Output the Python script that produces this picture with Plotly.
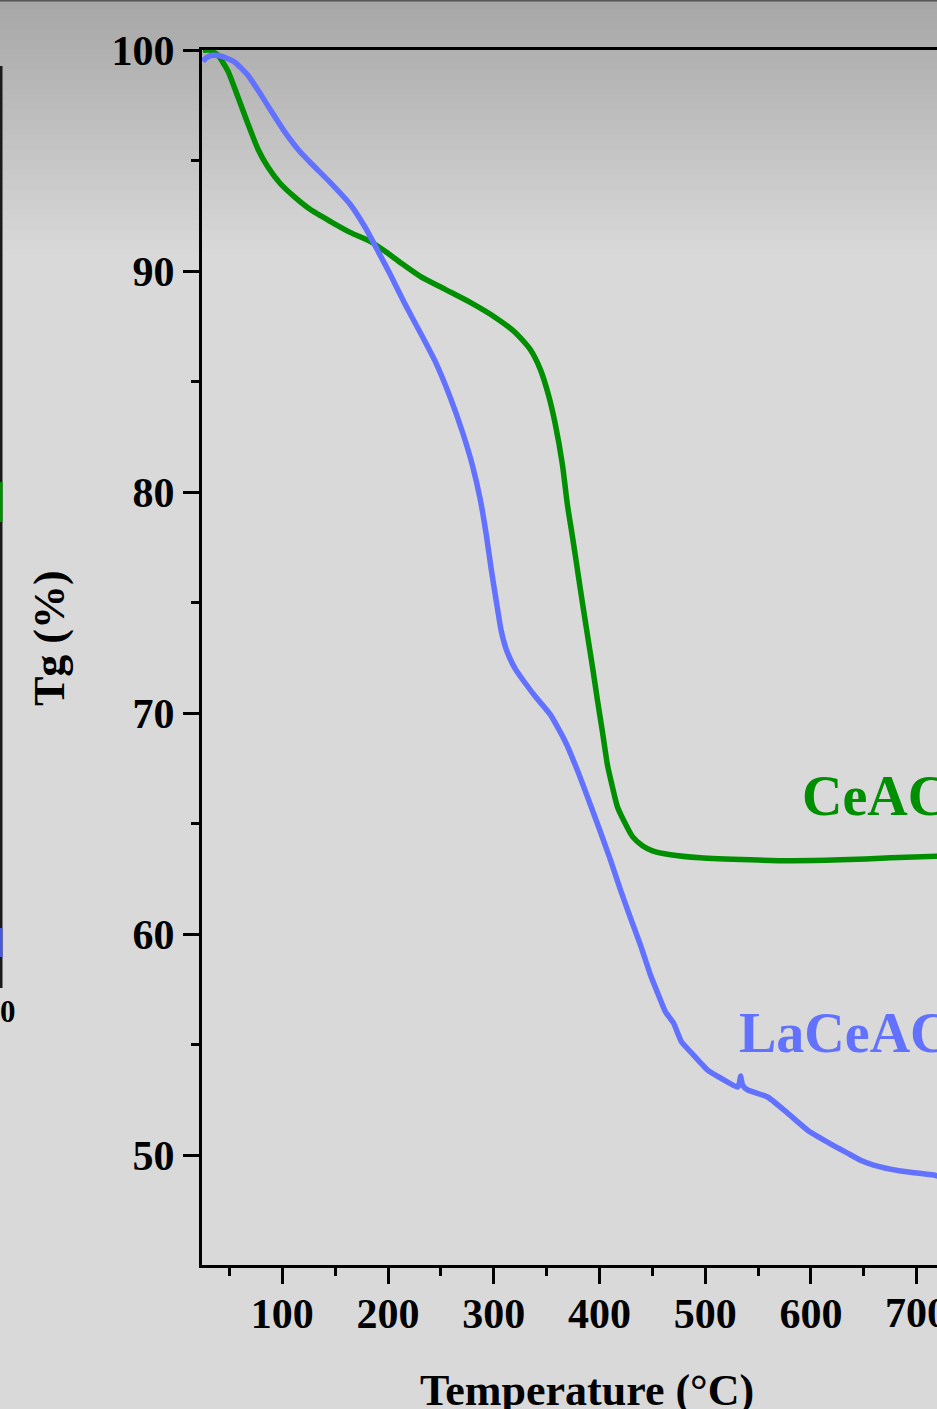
import plotly.graph_objects as go

# ---- data (temperature in °C, mass in %) ----
ceac_T = [24.9, 31.5, 39.1, 48.6, 58.1, 67.6, 77.1, 86.5, 97.8, 112.0, 126.2, 145.2, 164.1, 183.0,
          197.2, 211.4, 230.4, 254.0, 277.7, 301.4, 320.3, 334.5, 344.0, 351.6, 358.2, 364.9,
          369.6, 374.4, 379.1, 383.8, 388.6, 393.3, 398.0, 402.8, 407.5, 412.2, 417.0, 423.6,
          431.2, 440.6, 450.1, 467.1, 495.5, 542.8, 580.7, 628.0, 675.4, 719.9]
ceac_v = [99.99, 99.99, 99.76, 99.04, 97.86, 96.64, 95.50, 94.69, 93.97, 93.33, 92.79, 92.25, 91.75,
          91.34, 90.89, 90.39, 89.76, 89.17, 88.58, 87.90, 87.22, 86.45, 85.55, 84.41, 83.06,
          81.24, 79.43, 77.98, 76.49, 75.00, 73.53, 72.10, 70.60, 69.14, 67.65, 66.66, 65.75,
          65.07, 64.41, 64.00, 63.77, 63.59, 63.45, 63.36, 63.32, 63.36, 63.45, 63.52]

laceac_T = [24.9, 28.7, 34.4, 42.9, 55.2, 67.6, 78.9, 90.2, 102.6, 114.9, 128.1, 145.2, 164.1,
            178.3, 190.6, 202.0, 216.2, 230.4, 244.6, 258.8, 270.2, 279.6, 287.2, 292.9, 297.6,
            302.4, 307.1, 312.8, 320.3, 329.8, 339.3, 353.5, 367.7, 380.0, 391.4, 400.8, 410.3,
            419.8, 429.3, 438.7, 448.2, 455.8, 462.4, 470.0, 474.7, 477.6, 486.1, 502.2, 514.5,
            530.6, 532.5, 533.4, 535.3, 540.0, 559.0, 577.9, 596.8, 615.6, 634.6, 646.9, 659.2,
            684.8, 716.0, 719.8]
laceac_v = [99.49, 99.67, 99.76, 99.71, 99.44, 98.85, 98.04, 97.18, 96.27, 95.50, 94.83, 94.01,
            93.02, 91.98, 90.89, 89.85, 88.49, 87.22, 85.91, 84.28, 82.74, 81.24, 79.66, 78.07,
            76.50, 75.05, 73.70, 72.75, 72.00, 71.35, 70.75, 69.93, 68.70, 67.30, 65.85, 64.63,
            63.36, 62.00, 60.73, 59.51, 58.15, 57.24, 56.48, 55.98, 55.43, 55.12, 54.67, 53.85,
            53.49, 53.08, 53.31, 53.58, 53.17, 52.95, 52.63, 51.90, 51.13, 50.59, 50.09, 49.77,
            49.55, 49.28, 49.10, 49.05]

x_ticks = [100, 200, 300, 400, 500, 600]
x_edge_tick = 700          # tick at the cropped right edge, label drawn separately
x_minor = [50, 150, 250, 350, 450, 550, 650]
y_ticks = [50, 60, 70, 80, 90, 100]
y_minor = [55, 65, 75, 85, 95]

GREEN = "#008f00"
BLUE = "#6272ff"
FONT = "Liberation Serif, Times New Roman, serif"

W, H = 937, 1409
ML, MR, MT, MB = 202, 0, 50, 144
PW = W - ML - MR
PH = H - MT - MB


def px_x(p):  # pixel -> paper x
    return (p - ML) / PW


def px_y(p):  # pixel -> paper y
    return (H - MB - p) / PH


fig = go.Figure()
fig.add_trace(go.Scatter(x=ceac_T, y=ceac_v, mode="lines", name="CeAC",
                         line=dict(color=GREEN, width=5.5, shape="spline", smoothing=0.6)))
fig.add_trace(go.Scatter(x=laceac_T, y=laceac_v, mode="lines", name="LaCeAC",
                         line=dict(color=BLUE, width=5.5, shape="spline", smoothing=0.5)))

shapes = []
# background gradient at top
n = 26
top_c, bot_c = 167, 217
for i in range(n):
    c = round(top_c + (bot_c - top_c) * i / (n - 1))
    shapes.append(dict(type="rect", xref="paper", yref="paper", layer="below",
                       x0=px_x(0), x1=1.01, y0=px_y(i * 10 + 10), y1=px_y(i * 10),
                       fillcolor=f"rgb({c},{c},{c})", line=dict(width=0)))
# thin dark line at the very top
shapes.append(dict(type="line", xref="paper", yref="paper", x0=px_x(0), x1=1.01,
                   y0=px_y(0.5), y1=px_y(0.5), line=dict(color="#555555", width=2)))
# neighbouring panel (cropped) at the left edge
shapes.append(dict(type="line", xref="paper", yref="paper", x0=px_x(1), x1=px_x(1),
                   y0=px_y(66), y1=px_y(988), line=dict(color="#1a1a1a", width=3)))
shapes.append(dict(type="line", xref="paper", yref="paper", x0=px_x(1), x1=px_x(1),
                   y0=px_y(482), y1=px_y(522), line=dict(color=GREEN, width=3)))
shapes.append(dict(type="line", xref="paper", yref="paper", x0=px_x(1), x1=px_x(1),
                   y0=px_y(928), y1=px_y(957), line=dict(color="#4a5ad8", width=3)))

annotations = [
    dict(text="<b>CeAC</b>", x=589.6, y=66.24, xref="x", yref="y", xanchor="left",
         yanchor="middle", showarrow=False, font=dict(family=FONT, size=56, color=GREEN)),
    dict(text="<b>LaCeAC</b>", x=529.9, y=55.51, xref="x", yref="y", xanchor="left",
         yanchor="middle", showarrow=False, font=dict(family=FONT, size=56, color=BLUE)),
    dict(text=f"<b>{x_edge_tick}</b>", x=x_edge_tick, y=px_y(1313), xref="x", yref="paper",
         xanchor="center", yanchor="middle", showarrow=False,
         font=dict(family=FONT, size=42, color="black")),
    dict(text="<b>Temperature (°C)</b>", x=px_x(586.5), y=px_y(1390), xref="paper", yref="paper",
         xanchor="center", yanchor="middle", showarrow=False,
         font=dict(family=FONT, size=44, color="black")),
    dict(text="<b>Tg (%)</b>", x=px_x(49), y=px_y(638), xref="paper", yref="paper",
         xanchor="center", yanchor="middle", textangle=-90, showarrow=False,
         font=dict(family=FONT, size=44, color="black")),
    dict(text="<b>0</b>", x=px_x(8), y=px_y(1011), xref="paper", yref="paper",
         xanchor="center", yanchor="middle", showarrow=False,
         font=dict(family=FONT, size=31, color="black")),
]

all_x_ticks = x_ticks + [x_edge_tick]
fig.update_layout(
    width=W, height=H,
    margin=dict(l=ML, r=MR, t=MT, b=MB, pad=0),
    paper_bgcolor="rgb(217,217,217)",
    plot_bgcolor="rgba(0,0,0,0)",
    showlegend=False,
    shapes=shapes,
    annotations=annotations,
    font=dict(family=FONT, color="black"),
)
fig.update_xaxes(
    range=[24.0, 719.2], tickvals=all_x_ticks,
    ticktext=[f"<b>{v}</b>" for v in x_ticks] + [""],
    ticks="outside", ticklen=16, tickwidth=3, tickcolor="black",
    showline=True, linewidth=3, linecolor="black", mirror=True,
    showgrid=False, zeroline=False, ticklabelstandoff=-6,
    tickfont=dict(family=FONT, size=42, color="black"),
    minor=dict(tickvals=x_minor, ticks="outside", ticklen=8,
               tickwidth=3, tickcolor="black", showgrid=False),
)
fig.update_yaxes(
    range=[45.03, 100.0], tickvals=y_ticks, ticktext=[f"<b>{v}</b>" for v in y_ticks],
    ticks="outside", ticklen=16, tickwidth=3, tickcolor="black",
    showline=True, linewidth=3, linecolor="black", mirror=False,
    showgrid=False, zeroline=False,
    tickfont=dict(family=FONT, size=42, color="black"),
    minor=dict(tickvals=y_minor, ticks="outside", ticklen=8,
               tickwidth=3, tickcolor="black", showgrid=False),
)

fig.write_html("out.html")
